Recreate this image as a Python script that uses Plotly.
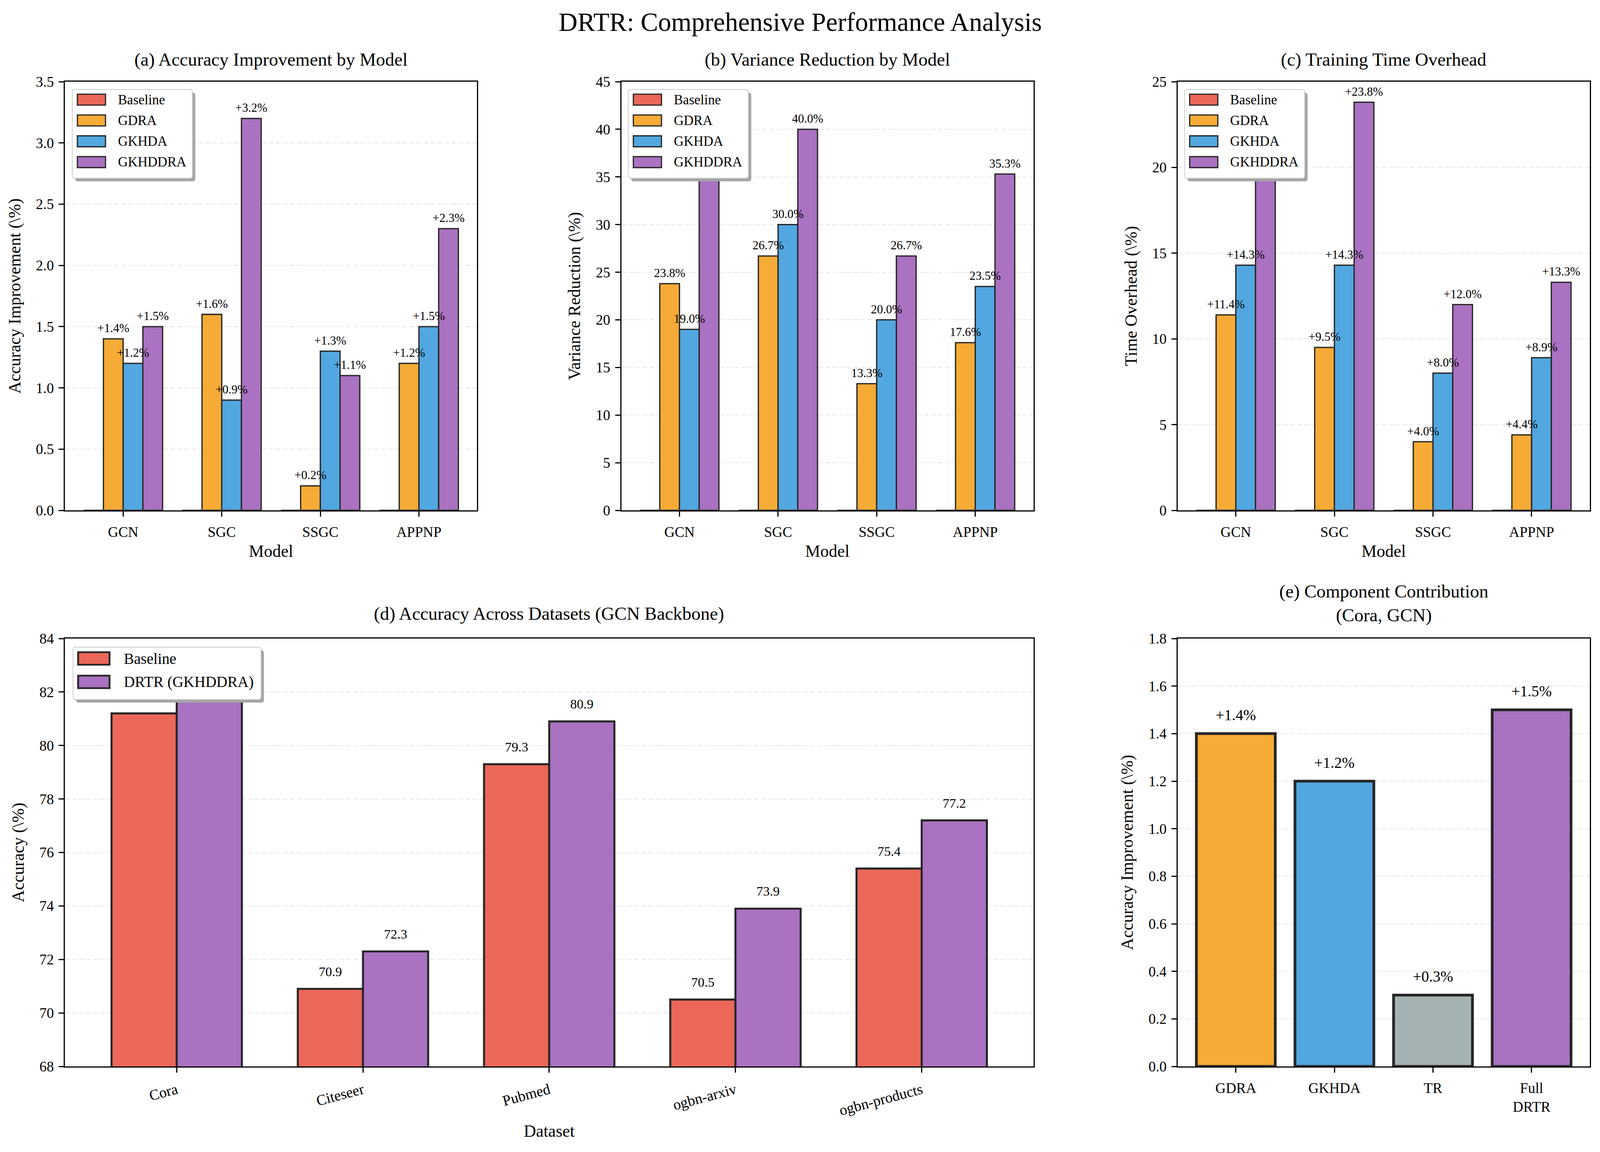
import plotly.graph_objects as go

# Reference picture size (pixels); layout positions are fractions of it.
W, H = 4383, 2948
S = 4096 / 4383  # css-pixel scale (page is rendered with device scale ~1.07)
FONT = "Liberation Serif"

# ---------------- data ----------------
models = ["GCN", "SGC", "SSGC", "APPNP"]
methods = ["Baseline", "GDRA", "GKHDA", "GKHDDRA"]

acc_baseline = [0.0, 0.0, 0.0, 0.0]
acc_gdra = [1.4, 1.6, 0.2, 1.2]
acc_gkhda = [1.2, 0.9, 1.3, 1.5]
acc_gkhddra = [1.5, 3.2, 1.1, 2.3]

var_baseline = [0.0, 0.0, 0.0, 0.0]
var_gdra = [23.8, 26.7, 13.3, 17.6]
var_gkhda = [19.0, 30.0, 20.0, 23.5]
var_gkhddra = [38.1, 40.0, 26.7, 35.3]

time_baseline = [0.0, 0.0, 0.0, 0.0]
time_gdra = [11.4, 9.5, 4.0, 4.4]
time_gkhda = [14.3, 14.3, 8.0, 8.9]
time_gkhddra = [21.9, 23.8, 12.0, 13.3]

datasets = ["Cora", "Citeseer", "Pubmed", "ogbn-arxiv", "ogbn-products"]
ds_baseline = [81.2, 70.9, 79.3, 70.5, 75.4]
ds_drtr = [82.7, 72.3, 80.9, 73.9, 77.2]
ds_names = ["Baseline", "DRTR (GKHDDRA)"]

components = ["GDRA", "GKHDA", "TR", "Full<br>DRTR"]
comp_values = [1.4, 1.2, 0.3, 1.5]

# ---------------- style ----------------
C_RED = "rgb(235,103,89)"
C_ORANGE = "rgb(245,171,54)"
C_BLUE = "rgb(82,167,224)"
C_PURPLE = "rgb(170,114,193)"
C_GRAY = "rgb(165,178,179)"
EDGE = "rgb(38,38,38)"
method_colors = [C_RED, C_ORANGE, C_BLUE, C_PURPLE]

xa = [178 / W, 1307 / W]
xb = [1702 / W, 2831 / W]
xc = [3226 / W, 4355 / W]
ytop = [1 - 1306 / H, 1 - 209 / H]
ybot = [1 - 2729 / H, 1 - 1634 / H]


def px(v):
    return v * S


fig = go.Figure()


def add_bars(xs, vals, name, color, width, lw, ax):
    fig.add_trace(go.Bar(
        x=xs, y=vals, width=width, name=name,
        marker=dict(color=color, line=dict(color=EDGE, width=px(lw))),
        xaxis="x" + ax, yaxis="y" + ax, showlegend=False, hoverinfo="skip"))


def add_labels(xs, vals, fmt, size, gap, ax):
    fig.add_trace(go.Scatter(
        x=xs, y=vals, mode="markers+text",
        text=[fmt.format(v) for v in vals],
        textposition="top center",
        textfont=dict(family=FONT, size=size, color="black"),
        marker=dict(size=px(gap), color="rgba(0,0,0,0)"),
        xaxis="x" + ax, yaxis="y" + ax, showlegend=False,
        hoverinfo="skip", cliponaxis=False))


offsets4 = [-0.3, -0.1, 0.1, 0.3]

panels = [
    ("", [acc_baseline, acc_gdra, acc_gkhda, acc_gkhddra], "+{:.1f}%"),
    ("2", [var_baseline, var_gdra, var_gkhda, var_gkhddra], "{:.1f}%"),
    ("3", [time_baseline, time_gdra, time_gkhda, time_gkhddra], "+{:.1f}%"),
]
for ax, series, fmt in panels:
    for i, vals in enumerate(series):
        xs = [k + offsets4[i] for k in range(len(models))]
        add_bars(xs, vals, methods[i], method_colors[i], 0.2, 3.5, ax)
    for i, vals in enumerate(series):
        if i == 0:
            continue
        xs = [k + offsets4[i] for k in range(len(models))]
        add_labels(xs, vals, fmt, 31, 14, ax)

# panel d
offsets2 = [-0.175, 0.175]
ds_colors = [C_RED, C_PURPLE]
for i, vals in enumerate([ds_baseline, ds_drtr]):
    xs = [k + offsets2[i] for k in range(len(datasets))]
    add_bars(xs, vals, ds_names[i], ds_colors[i], 0.35, 5.5, "4")
for i, vals in enumerate([ds_baseline, ds_drtr]):
    xs = [k + offsets2[i] for k in range(len(datasets))]
    add_labels(xs, vals, "{:.1f}", 34, 40, "4")

# panel e
comp_colors = [C_ORANGE, C_BLUE, C_GRAY, C_PURPLE]
fig.add_trace(go.Bar(
    x=list(range(len(components))), y=comp_values, width=0.8,
    marker=dict(color=comp_colors, line=dict(color=EDGE, width=px(7.5))),
    xaxis="x5", yaxis="y5", showlegend=False, hoverinfo="skip"))
add_labels(list(range(len(components))), comp_values, "+{:.1f}%", 39, 40, "5")


# ---------------- axes ----------------
def xaxis(domain, anchor, ticktext, rng, title, tickangle=0, standoff=14, tsize=37):
    return dict(domain=domain, anchor=anchor, range=rng,
                tickmode="array", tickvals=list(range(len(ticktext))), ticktext=ticktext,
                tickangle=tickangle,
                showline=True, linecolor="black", linewidth=px(3), mirror=True,
                ticks="outside", ticklen=px(14), tickwidth=px(3), tickcolor="black",
                ticklabelstandoff=8,
                tickfont=dict(family=FONT, size=tsize, color="black"),
                showgrid=False, zeroline=False, automargin=False,
                title=dict(text=title, font=dict(family=FONT, size=43.5, color="black"),
                           standoff=standoff))


def yaxis(domain, anchor, rng, dtick, title, fmt=None):
    d = dict(domain=domain, anchor=anchor, range=rng, dtick=dtick, tick0=rng[0],
             showline=True, linecolor="black", linewidth=px(3), mirror=True,
             ticks="outside", ticklen=px(14), tickwidth=px(3), tickcolor="black",
             ticklabelstandoff=5,
             tickfont=dict(family=FONT, size=37, color="black"),
             showgrid=True, gridcolor="#e7e7e7", gridwidth=px(2.5), griddash="12px,6px",
             zeroline=False, automargin=False,
             title=dict(text=title, font=dict(family=FONT, size=43.5, color="black"),
                        standoff=26))
    if fmt:
        d["tickformat"] = fmt
    return d


fig.update_layout(
    autosize=True, template="none", showlegend=False,
    margin=dict(l=0, r=0, t=0, b=0, pad=0),
    paper_bgcolor="white", plot_bgcolor="white",
    barmode="overlay", font=dict(family=FONT, color="black"),
    xaxis=xaxis(xa, "y", models, [-0.59, 3.59], "Model"),
    yaxis=yaxis(ytop, "x", [0, 3.5], 0.5, "Accuracy Improvement (\\%)", ".1f"),
    xaxis2=xaxis(xb, "y2", models, [-0.59, 3.59], "Model"),
    yaxis2=yaxis(ytop, "x2", [0, 45], 5, "Variance Reduction (\\%)"),
    xaxis3=xaxis(xc, "y3", models, [-0.59, 3.59], "Model"),
    yaxis3=yaxis(ytop, "x3", [0, 25], 5, "Time Overhead (\\%)"),
    xaxis4=xaxis([xa[0], xb[1]], "y4", datasets, [-0.6, 4.6], "Dataset",
                 tickangle=-15, standoff=18, tsize=38),
    yaxis4=yaxis(ybot, "x4", [68, 84], 2, "Accuracy (\\%)"),
    xaxis5=xaxis(xc, "y5", components, [-0.59, 3.59], ""),
    yaxis5=yaxis(ybot, "x5", [0, 1.8], 0.2, "Accuracy Improvement (\\%)", ".1f"),
)


# ---------------- legend boxes (drawn like matplotlib legends with shadow) ----------------
def PX(x):
    return x / W


def PY(y):
    return 1 - y / H


def rrect_path(x0, y0, x1, y1, r):
    pts = [
        ("M", [(x0 + r, y0)]), ("L", [(x1 - r, y0)]), ("Q", [(x1, y0), (x1, y0 + r)]),
        ("L", [(x1, y1 - r)]), ("Q", [(x1, y1), (x1 - r, y1)]),
        ("L", [(x0 + r, y1)]), ("Q", [(x0, y1), (x0, y1 - r)]),
        ("L", [(x0, y0 + r)]), ("Q", [(x0, y0), (x0 + r, y0)]),
    ]
    s = ""
    for cmd, ps in pts:
        s += cmd + " ".join("%.6f,%.6f" % (PX(a), PY(b)) for a, b in ps)
    return s + "Z"


def draw_legend(left, top, w, h, names, colors, sw_off, sw_w, sw_h, row0, pitch,
                text_off, fsize, edge_w):
    fig.add_shape(type="path", path=rrect_path(left + 8, top + 8, left + w + 8, top + h + 8, 7),
                  xref="paper", yref="paper", fillcolor="#a6a6a6",
                  line=dict(width=0), layer="above")
    fig.add_shape(type="path", path=rrect_path(left, top, left + w, top + h, 7),
                  xref="paper", yref="paper", fillcolor="white",
                  line=dict(color="#cccccc", width=px(2)), layer="above")
    for i, (nm, col) in enumerate(zip(names, colors)):
        cy = top + row0 + i * pitch
        fig.add_shape(type="rect", xref="paper", yref="paper",
                      x0=PX(left + sw_off), x1=PX(left + sw_off + sw_w),
                      y0=PY(cy - sw_h / 2), y1=PY(cy + sw_h / 2),
                      fillcolor=col, line=dict(color=EDGE, width=px(edge_w)), layer="above")
        fig.add_annotation(text=nm, x=PX(left + text_off), y=PY(cy), xref="paper", yref="paper",
                           xanchor="left", yanchor="middle", showarrow=False,
                           font=dict(family=FONT, size=fsize, color="black"))


for lx in (198, 1721, 3245):
    draw_legend(lx, 229, 329, 227, methods, method_colors, 14, 77, 28, 26, 53.3, 123, 35, 3.3)
draw_legend(200, 1656, 515, 134, ds_names, ds_colors, 14, 86, 32, 29, 60, 137, 39, 5)

# ---------------- titles ----------------
titles = [
    ("(a) Accuracy Improvement by Model", sum(xa) / 2, 152),
    ("(b) Variance Reduction by Model", sum(xb) / 2, 152),
    ("(c) Training Time Overhead", sum(xc) / 2, 152),
    ("(d) Accuracy Across Datasets (GCN Backbone)", (xa[0] + xb[1]) / 2, 1570),
    ("(e) Component Contribution<br>(Cora, GCN)", sum(xc) / 2, 1543),
]
for text, x, ypx in titles:
    fig.add_annotation(text=text, x=x, y=1 - ypx / H, xref="paper", yref="paper",
                       xanchor="center", yanchor="middle", showarrow=False,
                       font=dict(family=FONT, size=47, color="black"))

fig.add_annotation(text="DRTR: Comprehensive Performance Analysis",
                   x=0.5, y=1 - 56 / H, xref="paper", yref="paper",
                   xanchor="center", yanchor="middle", showarrow=False,
                   font=dict(family=FONT, size=67, color="black"))

fig.write_html(
    "out.html",
    default_width="100vw", default_height="100vh",
    config={"displayModeBar": False},
    post_script="document.body.style.margin='0';document.body.style.overflow='hidden';",
)
